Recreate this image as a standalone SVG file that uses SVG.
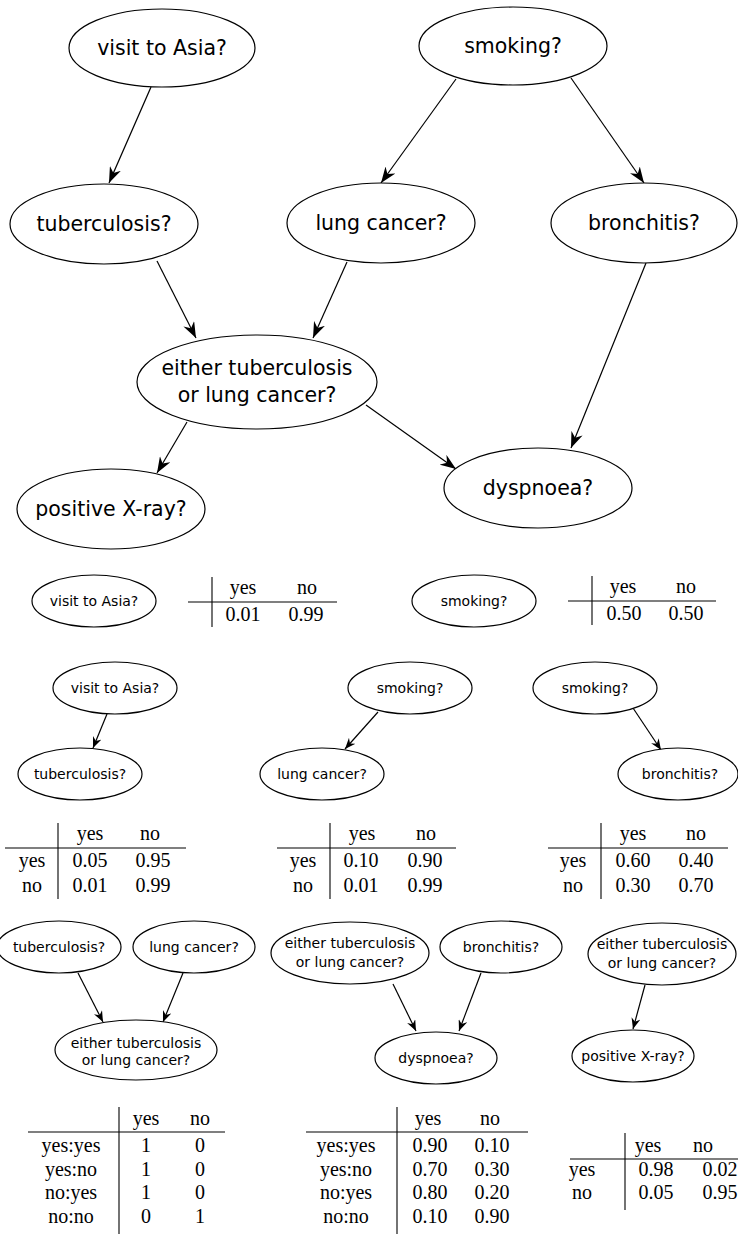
<svg xmlns="http://www.w3.org/2000/svg" width="738" height="1239" viewBox="0 0 738 1239">
<style>
.n ellipse{fill:#fff;stroke:#000;stroke-width:1.2}
.big text{font-family:"DejaVu Sans",sans-serif;font-size:20.5px;text-anchor:middle;fill:#000}
.sm text{font-family:"DejaVu Sans",sans-serif;font-size:14px;text-anchor:middle;fill:#000}
.e{stroke:#000;stroke-width:1.2;fill:none}
.eb{marker-end:url(#ab)}
.es{marker-end:url(#as)}
.t text{font-family:"Liberation Serif","Times New Roman",serif;font-size:20px;text-anchor:middle;fill:#000}
.t line{stroke:#000;stroke-width:1.1}
</style>
<defs>
<marker id="ab" markerUnits="userSpaceOnUse" markerWidth="17" markerHeight="12" refX="16" refY="6" orient="auto">
<path d="M16,6 L0,0 L5,6 L0,12 Z" fill="#000"/>
</marker>
<marker id="as" markerUnits="userSpaceOnUse" markerWidth="12" markerHeight="9" refX="11" refY="4.5" orient="auto">
<path d="M11,4.5 L0,0 L3.5,4.5 L0,9 Z" fill="#000"/>
</marker>
</defs>

<g id="edges">
<line class="e eb" x1="151" y1="87" x2="109" y2="183"/>
<line class="e eb" x1="456" y1="79" x2="381" y2="183"/>
<line class="e eb" x1="571" y1="78" x2="644" y2="183"/>
<line class="e eb" x1="157" y1="261" x2="196" y2="338"/>
<line class="e eb" x1="347" y1="262" x2="313" y2="338"/>
<line class="e eb" x1="646" y1="263" x2="571" y2="448"/>
<line class="e eb" x1="187" y1="422" x2="157" y2="473"/>
<line class="e eb" x1="366" y1="405" x2="456" y2="469"/>
<line class="e es" x1="107" y1="714" x2="93" y2="748"/>
<line class="e es" x1="378" y1="712" x2="345" y2="749"/>
<line class="e es" x1="633" y1="708" x2="661" y2="750"/>
<line class="e es" x1="78" y1="973" x2="103" y2="1022"/>
<line class="e es" x1="183" y1="973" x2="163" y2="1022"/>
<line class="e es" x1="393" y1="984" x2="416" y2="1031"/>
<line class="e es" x1="481" y1="973" x2="459" y2="1031"/>
<line class="e es" x1="645" y1="985" x2="633" y2="1029"/>
</g>

<g class="big">
<g id="visit" class="n"><ellipse cx="162" cy="48" rx="93" ry="39"/><text x="162" y="55">visit to Asia?</text></g>
<g id="smoking" class="n"><ellipse cx="513" cy="46" rx="94" ry="39"/><text x="513" y="53">smoking?</text></g>
<g id="tub" class="n"><ellipse cx="104" cy="224" rx="94" ry="40"/><text x="104" y="231">tuberculosis?</text></g>
<g id="lung" class="n"><ellipse cx="381" cy="223" rx="94" ry="40"/><text x="381" y="230">lung cancer?</text></g>
<g id="bronch" class="n"><ellipse cx="644" cy="223" rx="93" ry="40"/><text x="644" y="230">bronchitis?</text></g>
<g id="either" class="n"><ellipse cx="257" cy="382" rx="120" ry="47"/><text x="257" y="375">either tuberculosis</text><text x="257" y="402">or lung cancer?</text></g>
<g id="xray" class="n"><ellipse cx="111" cy="509" rx="94" ry="40"/><text x="111" y="516">positive X-ray?</text></g>
<g id="dysp" class="n"><ellipse cx="538" cy="488" rx="94" ry="40"/><text x="538" y="495">dyspnoea?</text></g>
</g>

<g class="sm">
<g id="s-visit" class="n"><ellipse cx="94" cy="601" rx="62" ry="26"/><text x="94" y="606">visit to Asia?</text></g>
<g id="s-smoking" class="n"><ellipse cx="474" cy="601" rx="62" ry="26"/><text x="474" y="606">smoking?</text></g>
<g id="c1-visit" class="n"><ellipse cx="115" cy="688" rx="62" ry="26"/><text x="115" y="693">visit to Asia?</text></g>
<g id="c1-tub" class="n"><ellipse cx="80" cy="774" rx="62" ry="26"/><text x="80" y="779">tuberculosis?</text></g>
<g id="c2-smoking" class="n"><ellipse cx="410" cy="688" rx="62" ry="26"/><text x="410" y="693">smoking?</text></g>
<g id="c2-lung" class="n"><ellipse cx="322" cy="774" rx="62" ry="26"/><text x="322" y="779">lung cancer?</text></g>
<g id="c3-smoking" class="n"><ellipse cx="595" cy="688" rx="62" ry="26"/><text x="595" y="693">smoking?</text></g>
<g id="c3-bronch" class="n"><ellipse cx="678" cy="774" rx="60" ry="26"/><text x="680" y="779">bronchitis?</text></g>
<g id="c4-tub" class="n"><ellipse cx="59" cy="947" rx="62" ry="26"/><text x="59" y="952">tuberculosis?</text></g>
<g id="c4-lung" class="n"><ellipse cx="194" cy="947" rx="61" ry="26"/><text x="194" y="952">lung cancer?</text></g>
<g id="c4-either" class="n"><ellipse cx="136" cy="1050" rx="81" ry="30"/><text x="136" y="1048">either tuberculosis</text><text x="136" y="1065">or lung cancer?</text></g>
<g id="c5-either" class="n"><ellipse cx="350" cy="953" rx="79" ry="31"/><text x="350" y="948">either tuberculosis</text><text x="350" y="967">or lung cancer?</text></g>
<g id="c5-bronch" class="n"><ellipse cx="501" cy="947" rx="61" ry="26"/><text x="501" y="952">bronchitis?</text></g>
<g id="c5-dysp" class="n"><ellipse cx="436" cy="1058" rx="61" ry="26"/><text x="436" y="1063">dyspnoea?</text></g>
<g id="c6-either" class="n"><ellipse cx="662" cy="954" rx="74" ry="31"/><text x="662" y="949">either tuberculosis</text><text x="662" y="968">or lung cancer?</text></g>
<g id="c6-xray" class="n"><ellipse cx="633" cy="1056" rx="61" ry="26"/><text x="633" y="1061">positive X-ray?</text></g>
</g>

<g id="table-visit" class="t">
<line x1="188" y1="602" x2="337" y2="602"/><line x1="212" y1="577" x2="212" y2="627"/>
<text x="243" y="594">yes</text><text x="307" y="594">no</text>
<text x="243" y="621">0.01</text><text x="306" y="621">0.99</text>
</g>
<g id="table-smoking" class="t">
<line x1="568" y1="601" x2="716" y2="601"/><line x1="592" y1="576" x2="592" y2="625"/>
<text x="623" y="593">yes</text><text x="686" y="593">no</text>
<text x="624" y="620">0.50</text><text x="686" y="620">0.50</text>
</g>

<g id="table-tub" class="t">
<line x1="5" y1="848" x2="186" y2="848"/><line x1="58" y1="823" x2="58" y2="899"/>
<text x="90" y="840">yes</text><text x="150" y="840">no</text>
<text x="32" y="867">yes</text><text x="90" y="867">0.05</text><text x="153" y="867">0.95</text>
<text x="32" y="892">no</text><text x="90" y="892">0.01</text><text x="153" y="892">0.99</text>
</g>
<g id="table-lung" class="t">
<line x1="277" y1="848" x2="456" y2="848"/><line x1="330" y1="823" x2="330" y2="899"/>
<text x="362" y="840">yes</text><text x="426" y="840">no</text>
<text x="303" y="867">yes</text><text x="361" y="867">0.10</text><text x="425" y="867">0.90</text>
<text x="303" y="892">no</text><text x="361" y="892">0.01</text><text x="425" y="892">0.99</text>
</g>
<g id="table-bronch" class="t">
<line x1="548" y1="848" x2="728" y2="848"/><line x1="601" y1="823" x2="601" y2="899"/>
<text x="633" y="840">yes</text><text x="696" y="840">no</text>
<text x="573" y="867">yes</text><text x="633" y="867">0.60</text><text x="696" y="867">0.40</text>
<text x="573" y="892">no</text><text x="633" y="892">0.30</text><text x="696" y="892">0.70</text>
</g>

<g id="table-either" class="t">
<line x1="28" y1="1132" x2="225" y2="1132"/><line x1="119" y1="1107" x2="119" y2="1234"/>
<text x="146" y="1125">yes</text><text x="200" y="1125">no</text>
<text x="71" y="1152">yes:yes</text><text x="146" y="1152">1</text><text x="200" y="1152">0</text>
<text x="71" y="1176">yes:no</text><text x="146" y="1176">1</text><text x="200" y="1176">0</text>
<text x="71" y="1199">no:yes</text><text x="146" y="1199">1</text><text x="200" y="1199">0</text>
<text x="71" y="1223">no:no</text><text x="146" y="1223">0</text><text x="200" y="1223">1</text>
</g>
<g id="table-dysp" class="t">
<line x1="306" y1="1132" x2="528" y2="1132"/><line x1="397" y1="1107" x2="397" y2="1234"/>
<text x="428" y="1125">yes</text><text x="490" y="1125">no</text>
<text x="346" y="1152">yes:yes</text><text x="430" y="1152">0.90</text><text x="492" y="1152">0.10</text>
<text x="346" y="1176">yes:no</text><text x="430" y="1176">0.70</text><text x="492" y="1176">0.30</text>
<text x="346" y="1199">no:yes</text><text x="430" y="1199">0.80</text><text x="492" y="1199">0.20</text>
<text x="346" y="1223">no:no</text><text x="430" y="1223">0.10</text><text x="492" y="1223">0.90</text>
</g>
<g id="table-xray" class="t">
<line x1="570" y1="1159" x2="738" y2="1159"/><line x1="625" y1="1133" x2="625" y2="1210"/>
<text x="648" y="1152">yes</text><text x="703" y="1152">no</text>
<text x="582" y="1176">yes</text><text x="656" y="1176">0.98</text><text x="720" y="1176">0.02</text>
<text x="582" y="1199">no</text><text x="656" y="1199">0.05</text><text x="720" y="1199">0.95</text>
</g>
</svg>
